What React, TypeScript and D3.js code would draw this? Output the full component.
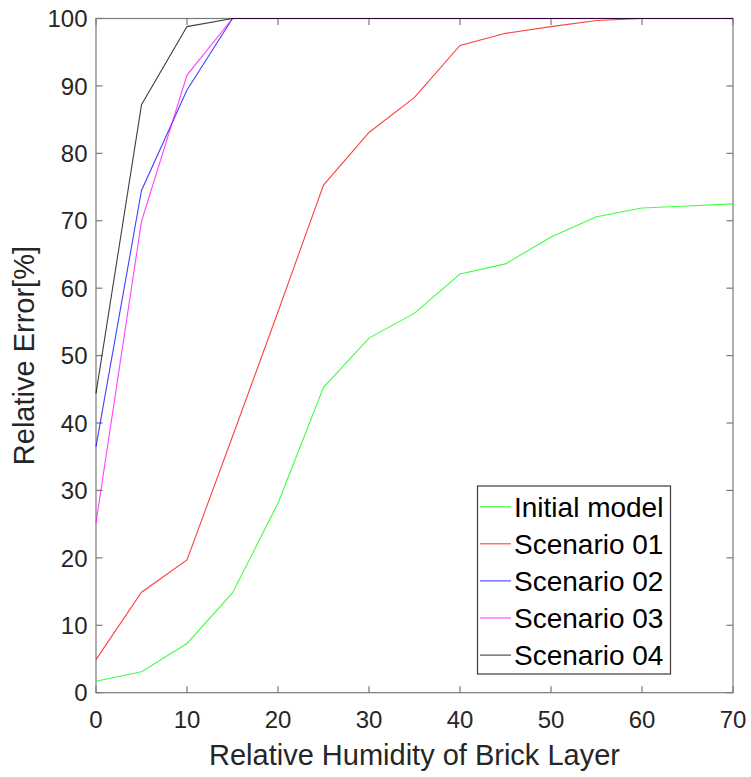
import React, { useRef, useEffect } from "react";
import * as d3 from "d3";

const humidity = [0, 5, 10, 15, 20, 25, 30, 35, 40, 45, 50, 55, 60, 65, 70];

const initialModel = [1.7, 3.1, 7.3, 14.8, 28.1, 45.3, 52.6, 56.3, 62.1, 63.6, 67.6, 70.6, 71.9, 72.2, 72.5];
const scenario01 = [4.9, 14.9, 19.7, 38.0, 56.5, 75.3, 83.1, 88.3, 96.0, 97.8, 98.8, 99.7, 100, 100, 100];
const scenario02 = [36.5, 74.5, 89.4, 100, 100, 100, 100, 100, 100, 100, 100, 100, 100, 100, 100];
const scenario03 = [25.2, 69.9, 91.6, 100, 100, 100, 100, 100, 100, 100, 100, 100, 100, 100, 100];
const scenario04 = [44.4, 87.2, 98.8, 100, 100, 100, 100, 100, 100, 100, 100, 100, 100, 100, 100];

const seriesNames = ["Initial model", "Scenario 01", "Scenario 02", "Scenario 03", "Scenario 04"];
const seriesColors = ["#00ff00", "#ff0000", "#0000ff", "#ff00ff", "#000000"];
const seriesValues = [initialModel, scenario01, scenario02, scenario03, scenario04];

const xTicks = [0, 10, 20, 30, 40, 50, 60, 70];
const yTicks = [0, 10, 20, 30, 40, 50, 60, 70, 80, 90, 100];

const W = 751;
const H = 777;
const margin = { left: 96, right: 18, top: 18.5, bottom: 84.3 };

const App = () => {
	const svgRef = useRef(null);

	useEffect(() => {
		const svg = d3.select(svgRef.current);
		svg.selectAll("*").remove();
		const font = "Arial, 'Liberation Sans', sans-serif";
		const x = d3.scaleLinear().domain([0, 70]).range([margin.left, W - margin.right]);
		const y = d3.scaleLinear().domain([0, 100]).range([H - margin.bottom, margin.top]);
		const axisColor = "#7a7a7a";
		const tickLen = 6.5;

		svg.append("rect").attr("width", W).attr("height", H).attr("fill", "#fff");

		// axes box and ticks
		const [x0, x1] = x.range();
		const [y0, y1] = y.range();
		const g = svg.append("g").attr("stroke", axisColor).attr("stroke-width", 1.2);
		g.append("rect")
			.attr("x", x0)
			.attr("y", y1)
			.attr("width", x1 - x0)
			.attr("height", y0 - y1)
			.attr("fill", "none");
		xTicks.forEach((t) => {
			g.append("line").attr("x1", x(t)).attr("x2", x(t)).attr("y1", y0).attr("y2", y0 - tickLen);
			g.append("line").attr("x1", x(t)).attr("x2", x(t)).attr("y1", y1).attr("y2", y1 + tickLen);
		});
		yTicks.forEach((t) => {
			g.append("line").attr("x1", x0).attr("x2", x0 + tickLen).attr("y1", y(t)).attr("y2", y(t));
			g.append("line").attr("x1", x1).attr("x2", x1 - tickLen).attr("y1", y(t)).attr("y2", y(t));
		});

		// lines
		const line = d3
			.line<number>()
			.x((_, i) => x(humidity[i]))
			.y((d) => y(d));
		seriesValues.forEach((vals, i) => {
			svg.append("path")
				.datum(vals)
				.attr("d", line)
				.attr("fill", "none")
				.attr("stroke", seriesColors[i])
				.attr("stroke-width", 1.1)
				.attr("stroke-opacity", 0.75);
		});

		svg.append("g")
			.selectAll("text")
			.data(xTicks)
			.join("text")
			.attr("x", (d) => x(d))
			.attr("y", 728)
			.attr("text-anchor", "middle")
			.attr("font-family", font)
			.attr("font-size", 24)
			.attr("fill", "#262626")
			.text((d) => d);

		svg.append("g")
			.selectAll("text")
			.data(yTicks)
			.join("text")
			.attr("x", 87.5)
			.attr("y", (d) => y(d))
			.attr("dy", "0.36em")
			.attr("text-anchor", "end")
			.attr("font-family", font)
			.attr("font-size", 24)
			.attr("fill", "#262626")
			.text((d) => d);

		svg.append("text")
			.attr("x", (x0 + x1) / 2)
			.attr("y", 765)
			.attr("text-anchor", "middle")
			.attr("font-family", font)
			.attr("font-size", 29)
			.attr("fill", "#262626")
			.text("Relative Humidity of Brick Layer");

		svg.append("text")
			.attr("transform", `translate(34,${(y0 + y1) / 2}) rotate(-90)`)
			.attr("text-anchor", "middle")
			.attr("font-family", font)
			.attr("font-size", 29)
			.attr("fill", "#262626")
			.text("Relative Error[%]");

		// legend
		const lg = svg.append("g");
		lg.append("rect")
			.attr("x", 477.5)
			.attr("y", 486)
			.attr("width", 193)
			.attr("height", 188)
			.attr("fill", "#fff")
			.attr("stroke", "#3a3a3a")
			.attr("stroke-width", 1.2);
		seriesNames.forEach((name, i) => {
			const cy = 506.7 + i * 37.1;
			lg.append("line")
				.attr("x1", 480)
				.attr("x2", 511)
				.attr("y1", cy)
				.attr("y2", cy)
				.attr("stroke", seriesColors[i])
				.attr("stroke-opacity", 0.75)
				.attr("stroke-width", 1.1);
			lg.append("text")
				.attr("x", 514)
				.attr("y", cy)
				.attr("dy", "0.36em")
				.attr("font-family", font)
				.attr("font-size", 28)
				.attr("fill", "#000")
				.text(name);
		});
	}, []);

	return (
		<div style={{ position: "absolute", left: 0, top: 0 }}>
			<svg ref={svgRef} width={W} height={H} style={{ display: "block" }} />
		</div>
	);
};

export default App;
